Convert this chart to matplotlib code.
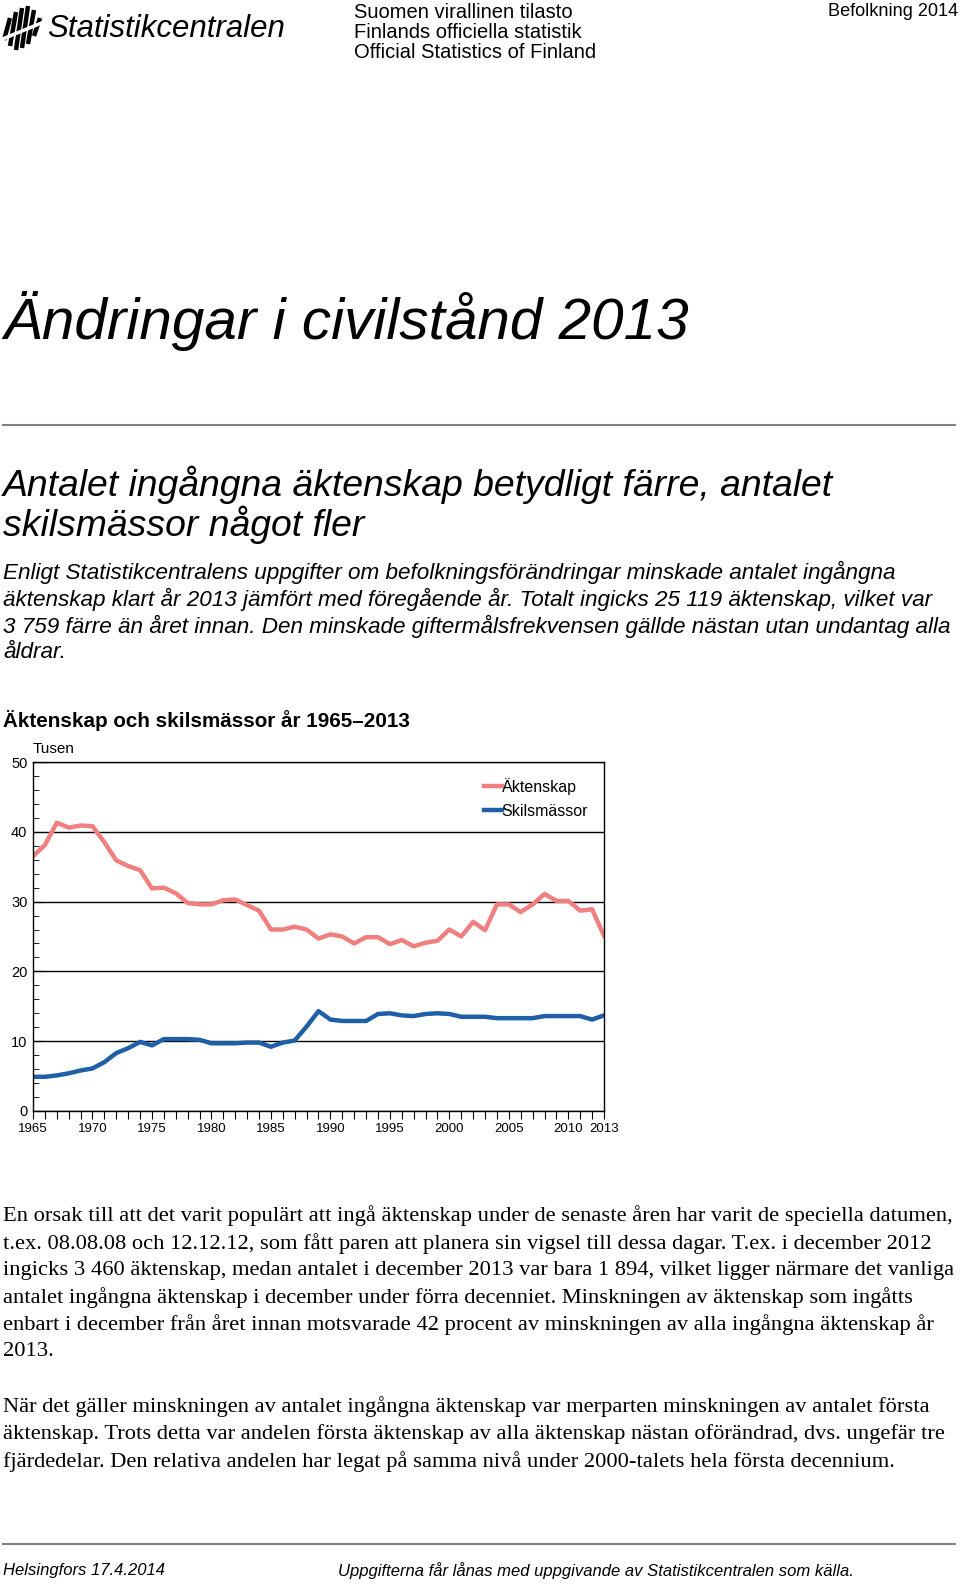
import numpy as np
import matplotlib
matplotlib.use("Agg")
from matplotlib import pyplot as plt
from matplotlib.lines import Line2D

W, H = 960, 1585

years = list(range(1965, 2014))
aktenskap = [36.5, 38.1, 41.3, 40.6, 40.9, 40.8, 38.5, 35.9, 35.1, 34.5,
             31.9, 32.0, 31.2, 29.8, 29.6, 29.6, 30.2, 30.3, 29.5, 28.7,
             26.0, 26.0, 26.4, 26.0, 24.7, 25.3, 25.0, 24.0, 24.9, 24.9,
             23.9, 24.5, 23.6, 24.1, 24.4, 26.0, 25.0, 27.1, 25.9, 29.6,
             29.6, 28.5, 29.6, 31.1, 30.1, 30.1, 28.7, 28.9, 25.1]
skilsmassor = [4.9, 4.9, 5.1, 5.4, 5.8, 6.1, 7.0, 8.3, 9.0, 9.9,
               9.4, 10.3, 10.3, 10.3, 10.2, 9.7, 9.7, 9.7, 9.8, 9.8,
               9.2, 9.8, 10.1, 12.1, 14.3, 13.1, 12.9, 12.9, 12.9, 13.9,
               14.0, 13.7, 13.6, 13.9, 14.0, 13.9, 13.5, 13.5, 13.5, 13.3,
               13.3, 13.3, 13.3, 13.6, 13.6, 13.6, 13.6, 13.1, 13.7]
labelled_years = [1965, 1970, 1975, 1980, 1985, 1990, 1995, 2000, 2005, 2010, 2013]

SANS = ['Liberation Sans', 'DejaVu Sans']
SERIF = ['Liberation Serif', 'DejaVu Serif']

fig = plt.figure(figsize=(W / 100, H / 100), dpi=100)


def fx(x):
    return x / W


def fy(y):
    return 1 - y / H


def txt(x, y, s, **kw):
    kw.setdefault('va', 'center')
    kw.setdefault('family', SANS)
    fig.text(fx(x), fy(y), s, **kw)


def hline(y, x0=3, x1=955, color='#808080', lw=1.5):
    fig.add_artist(Line2D([fx(x0), fx(x1)], [fy(y), fy(y)], color=color, lw=lw,
                          transform=fig.transFigure))


# logo: slanted bars
bars = [(6, 18, 40), (12, 12, 46), (18, 8, 50), (24, 6, 48), (30, 10, 44), (36, 18, 36)]
for x, y0, y1 in bars:
    fig.add_artist(Line2D([fx(x - 2), fx(x + 4)], [fy(y1), fy(y0)], color='black',
                          lw=3.2, transform=fig.transFigure, solid_capstyle='butt'))
fig.add_artist(Line2D([fx(0), fx(44)], [fy(40), fy(22)], color='white', lw=2.5,
                      transform=fig.transFigure))

txt(47, 29, 'Statistikcentralen', fontsize=22.5, style='italic')
txt(354, 12, 'Suomen virallinen tilasto', fontsize=14.5)
txt(354, 32, 'Finlands officiella statistik', fontsize=14.5)
txt(354, 53, 'Official Statistics of Finland', fontsize=14.5)
txt(958, 11, 'Befolkning 2014', fontsize=13.1, ha='right')

txt(3, 321, 'Ändringar i civilstånd 2013', fontsize=42, style='italic')
hline(425)

txt(3, 485, 'Antalet ingångna äktenskap betydligt färre, antalet', fontsize=26.9, style='italic')
txt(3, 525, 'skilsmässor något fler', fontsize=26.9, style='italic')

lead = ['Enligt Statistikcentralens uppgifter om befolkningsförändringar minskade antalet ingångna',
        'äktenskap klart år 2013 jämfört med föregående år. Totalt ingicks 25 119 äktenskap, vilket var',
        '3 759 färre än året innan. Den minskade giftermålsfrekvensen gällde nästan utan undantag alla',
        'åldrar.']
for i, line in enumerate(lead):
    txt(3, 572 + i * 27, line, fontsize=16.2, style='italic')

txt(3, 720, 'Äktenskap och skilsmässor år 1965–2013', fontsize=14.85, weight='bold')
txt(33, 749, 'Tusen', fontsize=11)

# chart
ax = fig.add_axes([fx(33), fy(1111), fx(604) - fx(33), (1111 - 762) / H])
ax.plot(years, aktenskap, color='#F08080', lw=3.2, label='Äktenskap', solid_joinstyle='round')
ax.plot(years, skilsmassor, color='#1E5FA6', lw=3.2, label='Skilsmässor', solid_joinstyle='round')
ax.set_xlim(1965, 2013)
ax.set_ylim(0, 50)
ax.set_yticks(range(0, 51, 10))
ax.set_yticks(range(0, 51, 2), minor=True)
ax.set_xticks(years)
ax.set_xticklabels([str(y) if y in labelled_years else '' for y in years])
ax.grid(axis='y', which='major', color='black', lw=1)
ax.tick_params(axis='y', which='major', length=8, direction='in', pad=4, labelsize=10.5)
ax.tick_params(axis='y', which='minor', length=4, direction='in')
ax.tick_params(axis='x', length=6, direction='out', pad=3, labelsize=9.5)
for lab in ax.get_xticklabels() + ax.get_yticklabels():
    lab.set_family(SANS)
for sp in ax.spines.values():
    sp.set_color('black')
    sp.set_linewidth(1)
leg = ax.legend(loc='upper right', frameon=False, handlelength=1.1,
                handletextpad=0.0, borderaxespad=0.6, labelspacing=0.55,
                prop={'family': SANS, 'size': 11.5})

body1 = ['En orsak till att det varit populärt att ingå äktenskap under de senaste åren har varit de speciella datumen,',
         't.ex. 08.08.08 och 12.12.12, som fått paren att planera sin vigsel till dessa dagar. T.ex. i december 2012',
         'ingicks 3 460 äktenskap, medan antalet i december 2013 var bara 1 894, vilket ligger närmare det vanliga',
         'antalet ingångna äktenskap i december under förra decenniet. Minskningen av äktenskap som ingåtts',
         'enbart i december från året innan motsvarade 42 procent av minskningen av alla ingångna äktenskap år',
         '2013.']
for i, line in enumerate(body1):
    txt(3, 1216 + i * 27.2, line, fontsize=16.2, family=SERIF)

body2 = ['När det gäller minskningen av antalet ingångna äktenskap var merparten minskningen av antalet första',
         'äktenskap. Trots detta var andelen första äktenskap av alla äktenskap nästan oförändrad, dvs. ungefär tre',
         'fjärdedelar. Den relativa andelen har legat på samma nivå under 2000-talets hela första decennium.']
for i, line in enumerate(body2):
    txt(3, 1407 + i * 27.2, line, fontsize=16.2, family=SERIF)

hline(1544)
txt(3, 1571, 'Helsingfors 17.4.2014', fontsize=12, style='italic')
txt(338, 1571, 'Uppgifterna får lånas med uppgivande av Statistikcentralen som källa.', fontsize=12, style='italic')

fig.savefig('out.png', dpi=100)
